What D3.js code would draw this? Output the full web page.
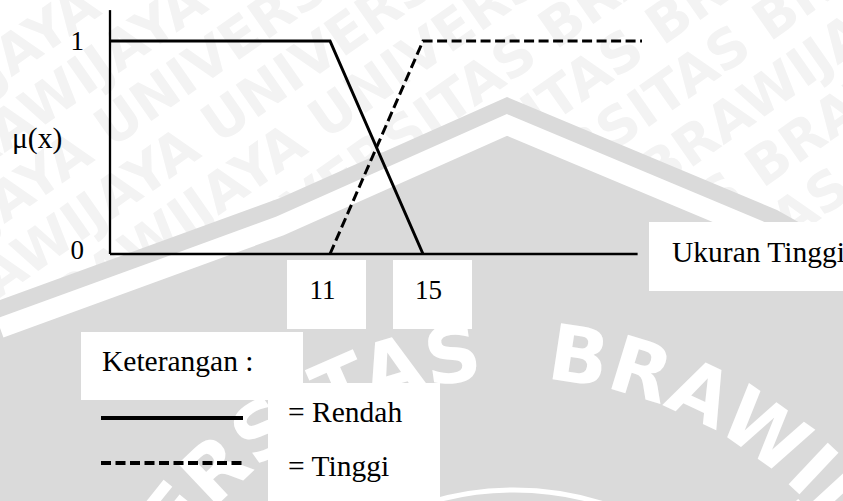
<!DOCTYPE html>
<html>
<head>
<meta charset="utf-8">
<script src="https://cdn.jsdelivr.net/npm/d3@7"></script>
<style>
  body { margin: 0; background: #fff; }
  svg { display: block; }
</style>
</head>
<body>
<div id="chart"></div>
<script>
// Fuzzy membership chart: Ukuran Tinggi (Rendah / Tinggi)

// Data
const RENDAH_X = [0, 11, 15];
const RENDAH_MU = [1, 1, 0];
const TINGGI_X = [11, 15, 25];
const TINGGI_MU = [0, 1, 1];
const X_TICKS = [11, 15];
const Y_TICKS = [0, 1];
const SERIES_NAMES = ["Rendah", "Tinggi"];

// Frame
const FRAME_WIDTH = 843;
const FRAME_HEIGHT = 501;
const SERIF = "'Liberation Serif', 'Times New Roman', serif";
const TEXT_SIZE = 29.5;
const NUM_SIZE = 27;
const DASH = "10,4.5";

const FRAME = d3.select("#chart")
  .append("svg")
    .attr("width", FRAME_WIDTH)
    .attr("height", FRAME_HEIGHT);

// ---------- watermark in the background ----------
const WM_GREY = "#dadada";

// faint diagonal lettering at the top
const faint = FRAME.append("g")
  .attr("transform", "rotate(-35, 420, 160)");
for (let i = 0; i < 14; i++) {
  faint.append("text")
    .attr("x", -600 + (i % 3) * 90)
    .attr("y", -200 + i * 58)
    .attr("font-family", "'DejaVu Sans', sans-serif")
    .attr("font-weight", "bold")
    .attr("font-size", 54)
    .attr("fill", "#f3f3f3")
    .text("UNIVERSITAS BRAWIJAYA UNIVERSITAS BRAWIJAYA UNIVERSITAS");
}

// big grey roof of the logo
const roof = [[0, 300], [280, 198], [507, 97], [777, 210], [843, 247]];
FRAME.append("path")
  .attr("d", d3.line()(roof.concat([[FRAME_WIDTH, FRAME_HEIGHT], [0, FRAME_HEIGHT]])) + "Z")
  .attr("fill", WM_GREY);
FRAME.append("path")
  .attr("d", d3.line()(roof.map(p => [p[0], p[1] + 28])))
  .attr("fill", "none")
  .attr("stroke", "#fff")
  .attr("stroke-width", 20);

// lettering around the logo circle
const CX = 514, CY = 786, R = 408;
const a0 = -160 * Math.PI / 180, a1 = 160 * Math.PI / 180;
FRAME.append("defs").append("path")
  .attr("id", "wmArc")
  .attr("d", "M" + (CX + R * Math.sin(a0)) + "," + (CY - R * Math.cos(a0)) +
             " A" + R + "," + R + " 0 1,1 " + (CX + R * Math.sin(a1)) + "," + (CY - R * Math.cos(a1)));
FRAME.append("text")
  .attr("font-family", "'DejaVu Sans', sans-serif")
  .attr("font-weight", "bold")
  .attr("font-size", 78)
  .attr("word-spacing", 34)
  .attr("fill", "#fff")
  .append("textPath")
    .attr("href", "#wmArc")
    .attr("startOffset", "47.9%")
    .attr("text-anchor", "middle")
    .text("UNIVERSITAS BRAWIJAYA");
FRAME.append("circle")
  .attr("cx", CX).attr("cy", CY).attr("r", 296)
  .attr("fill", "none").attr("stroke", "#fff").attr("stroke-width", 5);

// white text boxes (as in the document)
const BOXES = [[287, 260, 79, 69], [393, 260, 79, 69], [649, 222, 194, 69],
               [81, 332, 222, 68], [268, 383, 172, 118]];
FRAME.selectAll(".box")
  .data(BOXES)
  .enter()
  .append("rect")
    .attr("class", "box")
    .attr("x", d => d[0]).attr("y", d => d[1])
    .attr("width", d => d[2]).attr("height", d => d[3])
    .attr("fill", "#fff");

// ---------- chart ----------
// x is not to scale in the figure, so use a piecewise scale
const X_SCALE = d3.scaleLinear()
  .domain([0, 11, 15, 25])
  .range([110, 330, 423, 642]);
const Y_SCALE = d3.scaleLinear()
  .domain([0, 1])
  .range([254, 41]);

// axis lines
FRAME.append("line")
  .attr("x1", X_SCALE(0)).attr("y1", Y_SCALE(0))
  .attr("x2", X_SCALE(0)).attr("y2", Y_SCALE(1.145))
  .attr("stroke", "#000").attr("stroke-width", 2.3);
FRAME.append("line")
  .attr("x1", X_SCALE(0)).attr("y1", Y_SCALE(0))
  .attr("x2", X_SCALE(24.8)).attr("y2", Y_SCALE(0))
  .attr("stroke", "#000").attr("stroke-width", 2.3);

// y tick labels
const yAxis = FRAME.append("g")
  .attr("transform", "translate(" + X_SCALE(0) + ",0)")
  .call(d3.axisLeft(Y_SCALE).tickValues(Y_TICKS).tickSize(0).tickPadding(26).tickFormat(d3.format("d")));
yAxis.select(".domain").remove();
yAxis.selectAll("text")
  .attr("font-family", SERIF)
  .attr("font-size", NUM_SIZE)
  .attr("fill", "#000")
  .attr("dy", d => d === 0 ? "0.18em" : "0.32em");

// x tick labels
const xAxis = FRAME.append("g")
  .attr("transform", "translate(0," + Y_SCALE(0) + ")")
  .call(d3.axisBottom(X_SCALE).tickValues(X_TICKS).tickSize(0).tickPadding(26).tickFormat(d3.format("d")));
xAxis.select(".domain").remove();
xAxis.selectAll("text")
  .attr("font-family", SERIF)
  .attr("font-size", NUM_SIZE)
  .attr("fill", "#000")
  .attr("dx", d => d === 11 ? -8 : 5);

// axis titles
FRAME.append("text")
  .attr("x", 12).attr("y", 148)
  .attr("font-family", SERIF).attr("font-size", TEXT_SIZE)
  .text("\u03BC(x)");
FRAME.append("text")
  .attr("x", 672).attr("y", 262)
  .attr("font-family", SERIF).attr("font-size", TEXT_SIZE)
  .text("Ukuran Tinggi");

// membership lines
const line = d3.line()
  .x(d => X_SCALE(d[0]))
  .y(d => Y_SCALE(d[1]));
const series = [
  {name: SERIES_NAMES[0], pts: d3.zip(RENDAH_X, RENDAH_MU), dash: null},
  {name: SERIES_NAMES[1], pts: d3.zip(TINGGI_X, TINGGI_MU), dash: DASH}
];
FRAME.selectAll(".mf")
  .data(series)
  .enter()
  .append("path")
    .attr("class", "mf")
    .attr("d", d => line(d.pts))
    .attr("fill", "none")
    .attr("stroke", "#000")
    .attr("stroke-width", 3)
    .attr("stroke-dasharray", d => d.dash);

// legend
FRAME.append("text")
  .attr("x", 102).attr("y", 371)
  .attr("font-family", SERIF).attr("font-size", TEXT_SIZE)
  .text("Keterangan :");
const legend = FRAME.selectAll(".leg")
  .data(series)
  .enter()
  .append("g")
    .attr("class", "leg")
    .attr("transform", (d, i) => "translate(0," + (418 + i * 45) + ")");
legend.append("line")
  .attr("x1", 101).attr("x2", 243)
  .attr("stroke", "#000")
  .attr("stroke-width", 4)
  .attr("stroke-dasharray", d => d.dash);
legend.append("text")
  .attr("x", 288).attr("y", (d, i) => i === 0 ? 4 : 13)
  .attr("font-family", SERIF).attr("font-size", TEXT_SIZE)
  .text(d => "= " + d.name);
</script>
</body>
</html>
